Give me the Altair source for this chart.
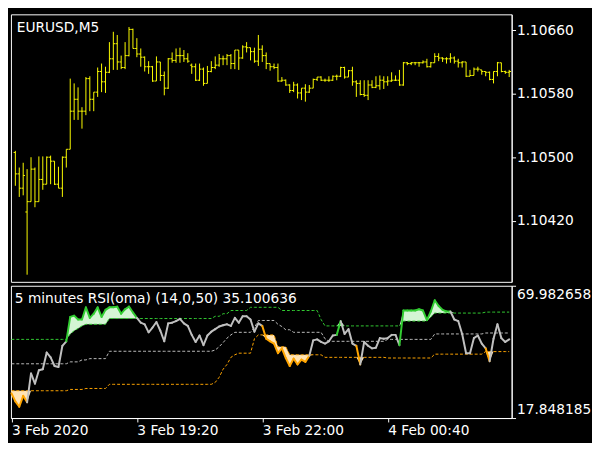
import json
import altair as alt
import pandas as pd

# ---------------- text ----------------
symbol_title = "EURUSD,M5"
rsi_title = "5 minutes RSI(oma) (14,0,50) 35.100636"

# ---------------- price bars (M5, bar index 0..126) ----------------
bar_open = [1.10506, 1.10479, 1.10461, 1.10431, 1.10444, 1.10485, 1.10444, 1.10472, 1.10466, 1.10500,
            1.10495, 1.10466, 1.10461, 1.10500, 1.10510, 1.10558, 1.10573, 1.10558, 1.10558, 1.10599,
            1.10573, 1.10582, 1.10608, 1.10595, 1.10607, 1.10624, 1.10643, 1.10620, 1.10613, 1.10628,
            1.10661, 1.10637, 1.10630, 1.10626, 1.10614, 1.10614, 1.10596, 1.10620, 1.10603, 1.10587,
            1.10624, 1.10622, 1.10628, 1.10628, 1.10624, 1.10616, 1.10614, 1.10597, 1.10611, 1.10593,
            1.10608, 1.10613, 1.10616, 1.10624, 1.10624, 1.10628, 1.10618, 1.10635, 1.10625, 1.10639,
            1.10638, 1.10633, 1.10621, 1.10636, 1.10628, 1.10618, 1.10614, 1.10613, 1.10596, 1.10597,
            1.10591, 1.10584, 1.10591, 1.10581, 1.10587, 1.10582, 1.10587, 1.10598, 1.10601, 1.10597,
            1.10597, 1.10597, 1.10602, 1.10602, 1.10613, 1.10601, 1.10609, 1.10595, 1.10593, 1.10579,
            1.10578, 1.10591, 1.10588, 1.10590, 1.10597, 1.10595, 1.10596, 1.10597, 1.10597, 1.10591,
            1.10619, 1.10618, 1.10619, 1.10619, 1.10619, 1.10620, 1.10614, 1.10619, 1.10627, 1.10625,
            1.10624, 1.10624, 1.10625, 1.10621, 1.10619, 1.10620, 1.10602, 1.10603, 1.10611, 1.10610,
            1.10608, 1.10607, 1.10598, 1.10608, 1.10619, 1.10608, 1.10607]
bar_high = [1.10508, 1.10487, 1.10493, 1.10485, 1.10500, 1.10487, 1.10501, 1.10501, 1.10501, 1.10502,
            1.10495, 1.10488, 1.10501, 1.10510, 1.10599, 1.10593, 1.10588, 1.10563, 1.10601, 1.10602,
            1.10582, 1.10613, 1.10618, 1.10614, 1.10645, 1.10658, 1.10654, 1.10628, 1.10645, 1.10664,
            1.10662, 1.10650, 1.10637, 1.10627, 1.10621, 1.10615, 1.10627, 1.10620, 1.10608, 1.10625,
            1.10632, 1.10637, 1.10638, 1.10635, 1.10631, 1.10618, 1.10618, 1.10618, 1.10613, 1.10615,
            1.10621, 1.10627, 1.10630, 1.10628, 1.10630, 1.10630, 1.10635, 1.10635, 1.10641, 1.10645,
            1.10638, 1.10638, 1.10654, 1.10641, 1.10632, 1.10618, 1.10618, 1.10618, 1.10601, 1.10598,
            1.10592, 1.10595, 1.10593, 1.10587, 1.10592, 1.10591, 1.10599, 1.10601, 1.10602, 1.10599,
            1.10602, 1.10603, 1.10604, 1.10614, 1.10614, 1.10610, 1.10614, 1.10597, 1.10597, 1.10597,
            1.10597, 1.10597, 1.10602, 1.10603, 1.10602, 1.10602, 1.10607, 1.10603, 1.10610, 1.10620,
            1.10620, 1.10620, 1.10620, 1.10620, 1.10622, 1.10624, 1.10620, 1.10631, 1.10631, 1.10626,
            1.10626, 1.10631, 1.10627, 1.10624, 1.10621, 1.10620, 1.10610, 1.10613, 1.10614, 1.10610,
            1.10608, 1.10608, 1.10608, 1.10620, 1.10619, 1.10609, 1.10610]
bar_low = [1.10464, 1.10450, 1.10452, 1.10352, 1.10444, 1.10437, 1.10444, 1.10459, 1.10466, 1.10466,
           1.10465, 1.10461, 1.10450, 1.10487, 1.10510, 1.10547, 1.10547, 1.10536, 1.10553, 1.10558,
           1.10558, 1.10576, 1.10582, 1.10581, 1.10606, 1.10610, 1.10610, 1.10611, 1.10611, 1.10627,
           1.10637, 1.10626, 1.10614, 1.10608, 1.10605, 1.10595, 1.10596, 1.10596, 1.10578, 1.10586,
           1.10619, 1.10619, 1.10619, 1.10620, 1.10619, 1.10605, 1.10596, 1.10596, 1.10590, 1.10593,
           1.10607, 1.10611, 1.10614, 1.10616, 1.10616, 1.10611, 1.10611, 1.10610, 1.10624, 1.10632,
           1.10622, 1.10619, 1.10615, 1.10620, 1.10611, 1.10609, 1.10611, 1.10595, 1.10595, 1.10590,
           1.10581, 1.10582, 1.10574, 1.10572, 1.10570, 1.10581, 1.10587, 1.10596, 1.10596, 1.10595,
           1.10595, 1.10596, 1.10597, 1.10601, 1.10599, 1.10601, 1.10590, 1.10576, 1.10578, 1.10576,
           1.10572, 1.10587, 1.10587, 1.10585, 1.10586, 1.10590, 1.10595, 1.10596, 1.10590, 1.10590,
           1.10616, 1.10616, 1.10616, 1.10614, 1.10618, 1.10613, 1.10613, 1.10619, 1.10621, 1.10620,
           1.10618, 1.10619, 1.10618, 1.10613, 1.10613, 1.10601, 1.10602, 1.10603, 1.10608, 1.10604,
           1.10602, 1.10597, 1.10593, 1.10602, 1.10607, 1.10605, 1.10601]
bar_close = [1.10479, 1.10461, 1.10477, 1.10444, 1.10485, 1.10444, 1.10472, 1.10466, 1.10500, 1.10495,
             1.10466, 1.10461, 1.10500, 1.10510, 1.10558, 1.10573, 1.10558, 1.10558, 1.10599, 1.10573,
             1.10582, 1.10608, 1.10595, 1.10607, 1.10624, 1.10643, 1.10620, 1.10613, 1.10628, 1.10661,
             1.10637, 1.10630, 1.10626, 1.10614, 1.10614, 1.10596, 1.10620, 1.10603, 1.10587, 1.10624,
             1.10622, 1.10628, 1.10628, 1.10624, 1.10621, 1.10614, 1.10597, 1.10611, 1.10593, 1.10608,
             1.10613, 1.10616, 1.10624, 1.10624, 1.10628, 1.10618, 1.10635, 1.10625, 1.10639, 1.10638,
             1.10633, 1.10621, 1.10636, 1.10628, 1.10618, 1.10614, 1.10613, 1.10596, 1.10597, 1.10591,
             1.10584, 1.10591, 1.10581, 1.10587, 1.10582, 1.10587, 1.10598, 1.10601, 1.10597, 1.10597,
             1.10597, 1.10602, 1.10602, 1.10613, 1.10601, 1.10609, 1.10595, 1.10593, 1.10579, 1.10578,
             1.10591, 1.10588, 1.10590, 1.10597, 1.10595, 1.10596, 1.10597, 1.10597, 1.10591, 1.10619,
             1.10618, 1.10619, 1.10619, 1.10619, 1.10620, 1.10614, 1.10619, 1.10627, 1.10625, 1.10624,
             1.10624, 1.10625, 1.10621, 1.10619, 1.10620, 1.10602, 1.10603, 1.10611, 1.10611, 1.10608,
             1.10607, 1.10598, 1.10608, 1.10619, 1.10608, 1.10607, 1.10608]

# ---------------- RSI panel (bar index -1..126) ----------------
rsi_first_index = -1
rsi_values = [27.60, 24.44, 22.29, 26.59, 24.06, 35.43, 31.39, 36.71, 37.08, 43.66,
              41.77, 38.35, 37.97, 46.32, 48.09, 57.70, 58.21, 56.69, 56.69, 61.49,
              57.32, 58.97, 61.49, 57.70, 60.48, 61.49, 61.49, 61.75, 58.97, 60.74,
              61.75, 59.47, 57.32, 55.43, 54.79, 51.63, 53.53, 55.68, 52.26, 48.09,
              55.17, 55.43, 56.06, 56.94, 55.17, 54.16, 50.62, 47.84, 50.37, 46.57,
              50.37, 51.88, 52.89, 53.91, 54.41, 54.79, 54.16, 57.32, 55.43, 57.95,
              57.95, 56.69, 51.88, 55.17, 54.16, 49.10, 48.09, 47.20, 43.41, 45.31,
              41.51, 38.35, 41.26, 38.98, 40.88, 39.99, 42.40, 48.47, 48.85, 47.84,
              47.20, 48.09, 50.37, 50.62, 56.06, 50.99, 52.89, 47.20, 46.32, 38.98,
              47.84, 46.32, 45.31, 45.56, 49.35, 49.10, 49.35, 50.62, 50.62, 46.57,
              60.23, 60.23, 60.23, 60.23, 60.74, 60.23, 56.44, 59.85, 64.28, 62.00,
              60.48, 59.85, 59.85, 56.69, 56.06, 50.99, 43.41, 43.41, 49.35, 50.37,
              47.20, 45.31, 40.24, 49.10, 54.79, 49.35, 47.84, 48.85]
upper_band = [48.85, 48.85, 48.85, 48.85, 48.85, 48.85, 48.85, 48.85, 48.85, 48.85,
              48.85, 48.85, 48.85, 48.85, 48.85, 50.99, 52.26, 53.15, 54.16, 54.79,
              54.79, 54.79, 54.79, 54.79, 54.79, 57.07, 57.07, 57.07, 57.07, 57.07,
              57.07, 57.07, 57.07, 57.07, 57.07, 57.07, 57.07, 57.07, 57.07, 57.07,
              57.07, 57.07, 57.07, 57.07, 57.07, 57.07, 57.07, 57.07, 57.07, 57.07,
              57.07, 57.07, 57.95, 57.95, 58.97, 58.97, 60.23, 60.23, 60.23, 60.23,
              60.23, 61.49, 61.49, 61.49, 61.49, 61.49, 61.49, 61.49, 61.49, 60.23,
              60.23, 60.23, 60.23, 60.23, 60.23, 60.23, 60.23, 60.23, 60.23, 56.69,
              54.16, 54.16, 54.16, 54.16, 54.16, 54.16, 54.16, 54.16, 54.16, 54.16,
              54.16, 54.16, 54.16, 54.16, 54.16, 54.16, 54.16, 54.16, 54.16, 54.16,
              56.06, 56.06, 56.06, 56.06, 56.06, 56.06, 56.06, 57.70, 59.22, 59.22,
              59.22, 59.22, 59.22, 59.22, 59.22, 59.22, 59.22, 59.22, 59.22, 59.22,
              59.22, 59.60, 59.60, 59.60, 59.60, 59.60, 59.60, 59.60]
mid_band = [39.23, 39.23, 39.23, 39.23, 39.23, 39.23, 39.23, 39.23, 39.23, 39.23,
            39.23, 39.23, 39.23, 39.23, 39.23, 39.99, 39.99, 39.99, 40.75, 40.75,
            41.26, 41.26, 41.26, 41.26, 41.26, 44.17, 44.17, 44.17, 44.17, 44.17,
            44.17, 44.17, 44.17, 44.17, 44.17, 44.17, 44.17, 44.17, 44.17, 44.17,
            44.17, 44.17, 44.17, 44.17, 44.17, 44.17, 44.17, 44.17, 44.17, 44.17,
            44.17, 44.17, 44.67, 45.94, 47.58, 49.35, 50.62, 51.63, 51.63, 51.63,
            51.63, 51.63, 53.53, 56.30, 56.30, 56.30, 56.30, 56.30, 54.79, 53.91,
            52.64, 52.64, 51.63, 51.63, 51.63, 51.63, 51.63, 51.63, 51.63, 51.63,
            49.10, 48.09, 48.09, 48.09, 48.09, 48.09, 48.09, 48.09, 48.09, 48.09,
            48.09, 48.09, 48.09, 48.09, 48.09, 48.09, 48.85, 48.85, 48.85, 48.85,
            48.85, 48.85, 48.85, 48.85, 48.85, 48.85, 48.85, 48.85, 50.99, 50.99,
            50.99, 50.99, 50.99, 50.99, 50.99, 50.99, 50.99, 50.99, 50.99, 50.99,
            50.99, 51.37, 51.37, 51.37, 51.37, 51.37, 51.37, 51.37]
lower_band = [28.61, 28.61, 28.61, 28.61, 28.61, 28.61, 28.61, 28.61, 28.61, 28.61,
              28.61, 28.61, 28.61, 28.61, 28.61, 29.12, 29.12, 29.12, 29.12, 29.50,
              29.50, 29.50, 29.50, 29.50, 29.50, 31.14, 31.14, 31.14, 31.14, 31.14,
              31.14, 31.14, 31.14, 31.14, 31.14, 31.14, 31.14, 31.14, 31.14, 31.14,
              31.14, 31.14, 31.14, 31.14, 31.14, 31.14, 31.14, 31.14, 31.14, 31.14,
              31.14, 31.14, 31.90, 33.92, 37.08, 38.98, 41.77, 42.78, 43.41, 43.41,
              43.41, 43.41, 49.10, 50.62, 50.62, 50.62, 50.62, 50.62, 45.94, 45.94,
              45.94, 42.78, 42.78, 42.78, 42.78, 42.78, 42.78, 42.78, 42.78, 42.78,
              41.77, 41.77, 41.77, 41.77, 41.77, 41.77, 41.77, 41.77, 41.77, 41.77,
              41.77, 41.77, 41.77, 41.77, 41.77, 41.77, 41.51, 41.51, 41.51, 41.51,
              41.51, 41.51, 41.51, 41.51, 41.51, 41.51, 41.51, 41.51, 43.03, 43.03,
              43.03, 43.03, 43.03, 43.03, 43.03, 43.03, 43.03, 43.03, 43.03, 43.03,
              43.03, 44.04, 44.04, 44.04, 44.04, 44.04, 44.04, 44.04]

# ---------------- axes ----------------
price_ticks = [1.10420, 1.10500, 1.10580, 1.10660]
price_domain = [1.10343, 1.10680]
rsi_ticks = [17.848185, 69.982658]
time_tick_index = [-1, 31, 63, 95]
time_labels = ["3 Feb 2020", "3 Feb 19:20", "3 Feb 22:00", "4 Feb 00:40"]

# ---------------- layout / style ----------------
W = 511
H_MAIN = 273
H_RSI = 135
X_DOMAIN = [-1.125, 126.625]
FONT = "DejaVu Sans"
YELLOW = "#FFFF00"
GREEN = "#32CD32"
ORANGE = "#FFA500"
SILVER = "#C0C0C0"
GREEN_FILL = "#D4F5D4"
ORANGE_FILL = "#FFE4B5"

# ---------------- tables ----------------
bars = pd.DataFrame({
    "i": list(range(len(bar_open))),
    "open": bar_open, "high": bar_high, "low": bar_low, "close": bar_close,
})
bars["i_left"] = bars["i"] - 0.45
bars["i_right"] = bars["i"] + 0.45

n = len(rsi_values)
rsi = pd.DataFrame({
    "i": [rsi_first_index + k for k in range(n)],
    "rsi": rsi_values, "upper": upper_band, "mid": mid_band, "lower": lower_band,
})
rsi["green_top"] = rsi[["rsi", "upper"]].max(axis=1)
rsi["orange_bot"] = rsi[["rsi", "lower"]].min(axis=1)

seg = pd.DataFrame({
    "i": rsi["i"].iloc[:-1].values,
    "i2": rsi["i"].iloc[1:].values,
    "r": rsi["rsi"].iloc[:-1].values,
    "r2": rsi["rsi"].iloc[1:].values,
})
up_next = (rsi["rsi"] > rsi["upper"]).iloc[1:].values
dn_next = (rsi["rsi"] < rsi["lower"]).iloc[1:].values
seg["state"] = ["up" if u else ("down" if d else "base") for u, d in zip(up_next, dn_next)]

xs = alt.Scale(domain=X_DOMAIN, nice=False, zero=False)
ys_price = alt.Scale(domain=price_domain, nice=False, zero=False)
ys_rsi = alt.Scale(domain=[rsi_ticks[0], rsi_ticks[1]], nice=False, zero=False)

price_axis = alt.Axis(orient="right", values=price_ticks, format=".5f", tickSize=4,
                      labelPadding=1, grid=False, title=None)
rsi_axis = alt.Axis(orient="right", values=rsi_ticks, format=".6f", tickSize=4,
                    labelPadding=1, grid=False, title=None, labelFlush=True, labelFlushOffset=-1.5)
label_expr = "%s[indexof(%s, datum.value)]" % (json.dumps(time_labels), json.dumps(time_tick_index))
time_axis = alt.Axis(values=time_tick_index, labelExpr=label_expr, labelAlign="left",
                     tickSize=4, labelPadding=2, grid=False, title=None,
                     labelFlush=False, labelOverlap=False, labelBound=False)

# ---------------- main price panel ----------------
base_b = alt.Chart(bars)
hl = base_b.mark_rule(color=YELLOW, strokeWidth=1).encode(
    x=alt.X("i:Q", scale=xs, axis=None),
    y=alt.Y("low:Q", scale=ys_price, axis=price_axis),
    y2="high:Q",
)
op = base_b.mark_rule(color=YELLOW, strokeWidth=1).encode(
    x=alt.X("i_left:Q", scale=xs, axis=None), x2="i:Q",
    y=alt.Y("open:Q", scale=ys_price),
)
cl = base_b.mark_rule(color=YELLOW, strokeWidth=1).encode(
    x=alt.X("i:Q", scale=xs, axis=None), x2="i_right:Q",
    y=alt.Y("close:Q", scale=ys_price),
)
title_main = alt.Chart(pd.DataFrame({"t": [symbol_title]})).mark_text(
    align="left", baseline="alphabetic", color="white", font=FONT, fontSize=14
).encode(x=alt.value(6), y=alt.value(18), text="t:N")

main = alt.layer(hl, op, cl, title_main).properties(width=W, height=H_MAIN)

# ---------------- RSI panel ----------------
base_r = alt.Chart(rsi)
fill_up = base_r.mark_area(color=GREEN_FILL, opacity=1).encode(
    x=alt.X("i:Q", scale=xs, axis=time_axis),
    y=alt.Y("green_top:Q", scale=ys_rsi, axis=rsi_axis),
    y2="upper:Q",
)
fill_dn = base_r.mark_area(color=ORANGE_FILL, opacity=1).encode(
    x=alt.X("i:Q", scale=xs), y=alt.Y("orange_bot:Q", scale=ys_rsi), y2="lower:Q",
)
band_up = base_r.mark_line(color=GREEN, strokeWidth=1, strokeDash=[3, 2]).encode(
    x=alt.X("i:Q", scale=xs), y=alt.Y("upper:Q", scale=ys_rsi))
band_mid = base_r.mark_line(color=SILVER, strokeWidth=1, strokeDash=[3, 2]).encode(
    x=alt.X("i:Q", scale=xs), y=alt.Y("mid:Q", scale=ys_rsi))
band_lo = base_r.mark_line(color=ORANGE, strokeWidth=1, strokeDash=[3, 2]).encode(
    x=alt.X("i:Q", scale=xs), y=alt.Y("lower:Q", scale=ys_rsi))
segs = alt.Chart(seg).mark_rule(strokeWidth=2, strokeCap="round").encode(
    x=alt.X("i:Q", scale=xs), x2="i2:Q",
    y=alt.Y("r:Q", scale=ys_rsi), y2="r2:Q",
    color=alt.Color("state:N", scale=alt.Scale(domain=["base", "up", "down"],
                                               range=[SILVER, GREEN, ORANGE]), legend=None),
)
title_rsi = alt.Chart(pd.DataFrame({"t": [rsi_title]})).mark_text(
    align="left", baseline="alphabetic", color="white", font=FONT, fontSize=14
).encode(x=alt.value(4), y=alt.value(18), text="t:N")

sub = alt.layer(fill_up, fill_dn, band_up, band_mid, band_lo, segs, title_rsi).properties(
    width=W, height=H_RSI)

chart = alt.vconcat(main, sub, spacing=2).properties(
    background="black",
    padding={"left": 1, "top": 1, "right": 0, "bottom": 0},
).configure_view(
    stroke="white", strokeWidth=1, fill="black"
).configure_axis(
    labelColor="white", domainColor="white", tickColor="white",
    labelFont=FONT, labelFontSize=14, grid=False, domainWidth=1, tickWidth=1,
)

chart.save("out.html", embed_options={"renderer": "svg", "actions": False})
